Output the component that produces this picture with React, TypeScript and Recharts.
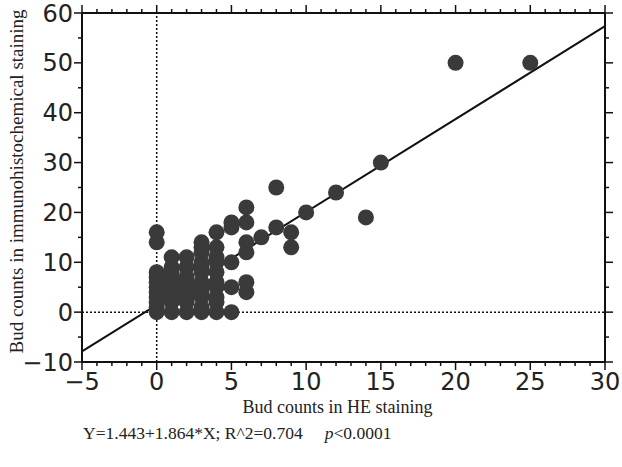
import { ScatterChart, Scatter, XAxis, YAxis, ReferenceLine, Label } from "recharts";

// bud counts per case: HE staining (x) vs immunohistochemical staining (y)
const heCounts = [
  0, 0, 0, 0, 0, 0, 0, 0, 0, 0, 0,
  1, 1, 1, 1, 1, 1, 1, 1, 1, 1,
  2, 2, 2, 2, 2, 2, 2, 2, 2,
  3, 3, 3, 3, 3, 3, 3, 3, 3, 3, 3, 3,
  4, 4, 4, 4, 4, 4, 4, 4, 4, 4,
  5, 5, 5, 5, 5,
  6, 6, 6, 6, 6, 6,
  7, 8, 8, 9, 9, 10, 12, 14, 15, 20, 25,
];
const ihcCounts = [
  0, 1, 2, 3, 4, 5, 6, 7, 8, 14, 16,
  0, 2, 3, 4, 5, 6, 7, 8, 9, 11,
  0, 2, 3, 4, 5, 6, 7, 9, 11,
  0, 1, 3, 4, 5, 6, 8, 9, 10, 12, 13, 14,
  0, 2, 3, 5, 6, 8, 10, 11, 13, 16,
  0, 5, 10, 17, 18,
  4, 6, 12, 14, 18, 21,
  15, 17, 25, 13, 16, 20, 24, 19, 30, 50, 50,
];

// regression fit shown under the chart
const intercept = 1.443;
const slope = 1.864;

const xTicks = [-5, -4, -3, -2, -1, 0, 1, 2, 3, 4, 5, 6, 7, 8, 9, 10, 11, 12, 13, 14, 15, 16, 17, 18, 19, 20, 21, 22, 23, 24, 25, 26, 27, 28, 29, 30];
const yTicks = [-10, -5, 0, 5, 10, 15, 20, 25, 30, 35, 40, 45, 50, 55, 60];

const points = heCounts.map((he, i) => ({ he, ihc: ihcCounts[i] }));

const ink = "#111";
const tickFont = "'DejaVu Sans', Verdana, sans-serif";
const serif = "'Liberation Serif', 'Times New Roman', serif";

const fmt = (v: number) => (v < 0 ? `\u2212${-v}` : `${v}`);

const BottomTick = (props: any) => {
  const { x, y, payload } = props;
  const major = payload.value % 5 === 0;
  return (
    <g>
      <line x1={x} y1={y} x2={x} y2={y + (major ? 8 : 4)} stroke={ink} strokeWidth={1.5} />
      {major && (
        <text x={x} y={y + 28} textAnchor="middle" fontSize={24} fontFamily={tickFont} fill="#222">
          {fmt(payload.value)}
        </text>
      )}
    </g>
  );
};

const TopTick = (props: any) => {
  const { x, y, payload } = props;
  const major = payload.value % 5 === 0;
  return <line x1={x} y1={y} x2={x} y2={y - (major ? 8 : 4)} stroke={ink} strokeWidth={1.5} />;
};

const LeftTick = (props: any) => {
  const { x, y, payload } = props;
  const major = payload.value % 10 === 0;
  return (
    <g>
      <line x1={x} y1={y} x2={x - (major ? 8 : 4)} y2={y} stroke={ink} strokeWidth={1.5} />
      {major && (
        <text x={x - 9} y={y} dy="0.36em" textAnchor="end" fontSize={24} fontFamily={tickFont} fill="#222">
          {fmt(payload.value)}
        </text>
      )}
    </g>
  );
};

const RightTick = (props: any) => {
  const { x, y, payload } = props;
  const major = payload.value % 10 === 0;
  return <line x1={x} y1={y} x2={x + (major ? 8 : 4)} y2={y} stroke={ink} strokeWidth={1.5} />;
};

export default function App() {
  return (
    <div style={{ position: "absolute", left: 0, top: 0, background: "#fff" }}>
      <ScatterChart width={622} height={467} margin={{ top: 0, right: 0, bottom: 0, left: 0 }}>
        <XAxis
          type="number"
          dataKey="he"
          xAxisId="main"
          domain={[-5, 30]}
          ticks={xTicks}
          interval={0}
          allowDataOverflow
          height={105}
          tickSize={0}
          tickMargin={0}
          tickLine={false}
          axisLine={{ stroke: ink, strokeWidth: 2 }}
          tick={<BottomTick />}
        >
          <Label
            content={({ viewBox }: any) => (
              <text
                x={viewBox.x + viewBox.width / 2 - 6}
                y={viewBox.y + 51}
                textAnchor="middle"
                fontSize={18}
                fontFamily={serif}
                fill="#222"
              >
                Bud counts in HE staining
              </text>
            )}
          />
          <Label
            content={({ viewBox }: any) => (
              <text x={viewBox.x + 1} y={viewBox.y + 77} fontSize={17.5} fontFamily={serif} fill="#222">
                <tspan>Y=1.443+1.864*X; R^2=0.704</tspan>
                <tspan dx={22} fontStyle="italic">p</tspan>
                <tspan>&lt;0.0001</tspan>
              </text>
            )}
          />
        </XAxis>
        <XAxis
          type="number"
          dataKey="he"
          xAxisId="top"
          orientation="top"
          domain={[-5, 30]}
          ticks={xTicks}
          interval={0}
          allowDataOverflow
          height={13}
          tickSize={0}
          tickMargin={0}
          tickLine={false}
          axisLine={{ stroke: ink, strokeWidth: 2 }}
          tick={<TopTick />}
        />
        <YAxis
          type="number"
          dataKey="ihc"
          yAxisId="main"
          domain={[-10, 60]}
          ticks={yTicks}
          interval={0}
          allowDataOverflow
          width={82}
          tickSize={0}
          tickMargin={0}
          tickLine={false}
          axisLine={{ stroke: ink, strokeWidth: 2 }}
          tick={<LeftTick />}
        >
          <Label
            content={({ viewBox }: any) => {
              const cx = viewBox.x + 16;
              const cy = viewBox.y + viewBox.height / 2 - 6;
              return (
                <text
                  x={cx}
                  y={cy}
                  transform={`rotate(-90 ${cx} ${cy})`}
                  textAnchor="middle"
                  dy="0.35em"
                  fontSize={19}
                  fontFamily={serif}
                  fill="#222"
                >
                  Bud counts in immunohistochemical staining
                </text>
              );
            }}
          />
        </YAxis>
        <YAxis
          type="number"
          dataKey="ihc"
          yAxisId="right"
          orientation="right"
          domain={[-10, 60]}
          ticks={yTicks}
          interval={0}
          allowDataOverflow
          width={17}
          tickSize={0}
          tickMargin={0}
          tickLine={false}
          axisLine={{ stroke: ink, strokeWidth: 2 }}
          tick={<RightTick />}
        />
        <ReferenceLine xAxisId="main" yAxisId="main" x={0} stroke={ink} strokeWidth={1.5} strokeDasharray="2 2" />
        <ReferenceLine xAxisId="main" yAxisId="main" y={0} stroke={ink} strokeWidth={1.5} strokeDasharray="2 2" />
        <Scatter
          data={points}
          xAxisId="top"
          yAxisId="right"
          fill="none"
          shape={() => null}
          isAnimationActive={false}
        />
        <Scatter
          data={points}
          xAxisId="main"
          yAxisId="main"
          fill="#3a3a3a"
          shape={(p: any) => <circle cx={p.cx} cy={p.cy} r={8} fill="#3a3a3a" />}
          isAnimationActive={false}
        />
        <ReferenceLine
          xAxisId="main"
          yAxisId="main"
          segment={[
            { x: -5, y: intercept + slope * -5 },
            { x: 30, y: intercept + slope * 30 },
          ]}
          stroke={ink}
          strokeWidth={2}
          ifOverflow="visible"
        />
      </ScatterChart>
    </div>
  );
}
